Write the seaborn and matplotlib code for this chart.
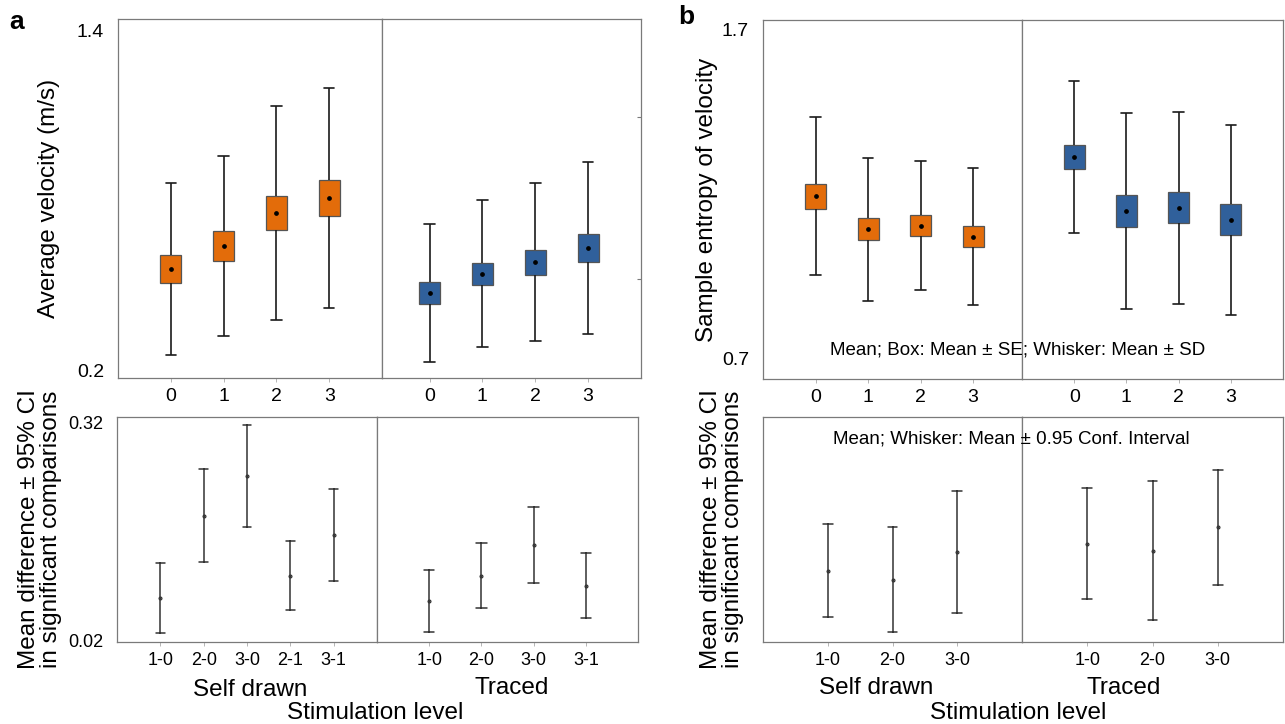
import numpy as np
import pandas as pd
import matplotlib
matplotlib.use("Agg")
import matplotlib.pyplot as plt
import seaborn as sns

# ---------------- data ----------------
levels = ["0", "1", "2", "3"]

# Average velocity (m/s): mean, standard error, standard deviation
vel_self_mean = [0.558, 0.639, 0.756, 0.809]
vel_self_se = [0.050, 0.052, 0.060, 0.064]
vel_self_sd = [0.305, 0.320, 0.379, 0.390]
vel_traced_mean = [0.473, 0.540, 0.582, 0.632]
vel_traced_se = [0.039, 0.040, 0.044, 0.050]
vel_traced_sd = [0.244, 0.260, 0.280, 0.305]

# Sample entropy of velocity
ent_self_mean = [1.195, 1.094, 1.105, 1.072]
ent_self_se = [0.038, 0.034, 0.031, 0.033]
ent_self_sd = [0.239, 0.218, 0.196, 0.209]
ent_traced_mean = [1.314, 1.149, 1.159, 1.123]
ent_traced_se = [0.037, 0.048, 0.047, 0.047]
ent_traced_sd = [0.232, 0.298, 0.292, 0.289]

# Pairwise comparisons: mean difference and 95% CI half-width
vel_cmp_self = ["1-0", "2-0", "3-0", "2-1", "3-1"]
vel_diff_self = [0.079, 0.192, 0.247, 0.110, 0.166]
vel_ci_self = [0.048, 0.064, 0.070, 0.047, 0.063]
vel_cmp_traced = ["1-0", "2-0", "3-0", "3-1"]
vel_diff_traced = [0.075, 0.110, 0.152, 0.096]
vel_ci_traced = [0.043, 0.045, 0.052, 0.045]

ent_cmp_self = ["1-0", "2-0", "3-0"]
ent_diff_self = [0.095, 0.083, 0.120]
ent_ci_self = [0.062, 0.070, 0.081]
ent_cmp_traced = ["1-0", "2-0", "3-0"]
ent_diff_traced = [0.131, 0.122, 0.153]
ent_ci_traced = [0.074, 0.093, 0.077]

vel_yticks = [0.2, 1.4]
vel_traced_right_ticks = [0.522, 1.096]
ent_yticks = [0.7, 1.7]
cmp_yticks = [0.02, 0.32]

ORANGE = "#E36C0A"
BLUE = "#30609B"

# ---------------- style ----------------
sns.set_theme(style="white")
plt.rcParams["font.family"] = ["Liberation Sans", "DejaVu Sans"]
plt.rcParams["text.color"] = "black"
plt.rcParams["axes.labelcolor"] = "black"
plt.rcParams["xtick.labelcolor"] = "black"
plt.rcParams["ytick.labelcolor"] = "black"

W, H = 1285, 724
fig = plt.figure(figsize=(W / 100, H / 100), dpi=100)


def add_ax(x0, y0, x1, y1):
    return fig.add_axes([x0 / W, 1 - y1 / H, (x1 - x0) / W, (y1 - y0) / H])


def box_frame(means, ses, sds):
    rows = []
    for lvl, m, se, sd in zip(levels, means, ses, sds):
        for v in (m - sd, m - se, m, m + se, m + sd):
            rows.append({"level": lvl, "value": v})
    return pd.DataFrame(rows)


def ci_frame(cats, diffs, cis):
    rows = []
    for c, d, ci in zip(cats, diffs, cis):
        for v in (d - ci, d, d + ci):
            rows.append({"cmp": c, "value": v})
    return pd.DataFrame(rows)


def draw_boxes(ax, means, ses, sds, color):
    df = box_frame(means, ses, sds)
    sns.boxplot(data=df, x="level", y="value", order=levels, color=color,
                saturation=1, width=0.4, whis=(0, 100), linecolor="#1a1a1a",
                linewidth=1.2, showfliers=False, showmeans=True,
                medianprops=dict(linewidth=0),
                boxprops=dict(edgecolor="#555555", linewidth=0.9),
                meanprops=dict(marker="o", markerfacecolor="black",
                               markeredgecolor="black", markersize=2.4),
                ax=ax)


def draw_ci(ax, cats, diffs, cis, capsize):
    df = ci_frame(cats, diffs, cis)
    sns.pointplot(data=df, x="cmp", y="value", order=cats, estimator="mean",
                  errorbar=lambda v: (v.min(), v.max()), linestyle="none",
                  marker="o", markersize=0.9, color="#333333",
                  capsize=capsize, err_kws=dict(linewidth=1.1), ax=ax)


def style(ax, xlim, ylim, yticks=None, tick_size=14):
    ax.set_xlim(*xlim)
    ax.set_ylim(*ylim)
    ax.set_xlabel("")
    ax.set_ylabel("")
    for s in ax.spines.values():
        s.set_visible(True)
        s.set_color("#7a7a7a")
        s.set_linewidth(0.9)
    ax.tick_params(axis="x", bottom=True, length=3, width=0.6, color="#aaaaaa",
                   labelsize=tick_size, pad=4)
    if yticks is None:
        ax.set_yticks([])
    else:
        ax.set_yticks(yticks)
        ax.set_yticklabels([f"{t:g}" for t in yticks])
        ax.tick_params(axis="y", left=False, labelsize=tick_size, pad=4)


# ---------------- panel a ----------------
vel_ylim = (0.172, 1.442)
ax = add_ax(118, 19, 382, 378)
draw_boxes(ax, vel_self_mean, vel_self_se, vel_self_sd, ORANGE)
style(ax, (-1, 4), vel_ylim, vel_yticks)
ax.set_ylabel("Average velocity (m/s)", fontsize=17.5, labelpad=12)

ax = add_ax(382, 19, 641, 378)
draw_boxes(ax, vel_traced_mean, vel_traced_se, vel_traced_sd, BLUE)
style(ax, (-0.9, 4), vel_ylim)
ax.yaxis.set_ticks_position("right")
ax.set_yticks(vel_traced_right_ticks)
ax.set_yticklabels([])
ax.tick_params(axis="y", right=True, direction="in", length=3, width=0.8,
               color="#7a7a7a")

cmp_ylim = (0.0186, 0.328)
ax = add_ax(117, 417, 377, 642)
draw_ci(ax, vel_cmp_self, vel_diff_self, vel_ci_self, 0.2)
style(ax, (-1, 5), cmp_ylim, cmp_yticks, tick_size=13)
ax.set_ylabel("Mean difference ± 95% CI\nin significant comparisons",
              fontsize=17.5, labelpad=4, linespacing=1.0)

ax = add_ax(377, 417, 638, 642)
draw_ci(ax, vel_cmp_traced, vel_diff_traced, vel_ci_traced, 0.2)
style(ax, (-1, 4), cmp_ylim, tick_size=13)

# ---------------- panel b ----------------
ent_ylim = (0.639, 1.730)
ax = add_ax(763, 20, 1022, 379)
draw_boxes(ax, ent_self_mean, ent_self_se, ent_self_sd, ORANGE)
style(ax, (-1, 3.93), ent_ylim, ent_yticks)
ax.set_ylabel("Sample entropy of velocity", fontsize=17.5, labelpad=3)

ax = add_ax(1022, 20, 1283, 379)
draw_boxes(ax, ent_traced_mean, ent_traced_se, ent_traced_sd, BLUE)
style(ax, (-1, 4), ent_ylim)

ent_cmp_ylim = (0.0, 0.30)
ax = add_ax(763, 417, 1022, 642)
draw_ci(ax, ent_cmp_self, ent_diff_self, ent_ci_self, 0.15)
style(ax, (-1, 3), ent_cmp_ylim, tick_size=13)
ax.set_ylabel("Mean difference ± 95% CI\nin significant comparisons",
              fontsize=17.5, labelpad=14, linespacing=1.0)

ax = add_ax(1022, 417, 1283, 642)
draw_ci(ax, ent_cmp_traced, ent_diff_traced, ent_ci_traced, 0.15)
style(ax, (-1, 3), ent_cmp_ylim, tick_size=13)

# ---------------- figure text ----------------
def ftext(x, y, s, **kw):
    fig.text(x / W, 1 - y / H, s, ha="center", va="center", **kw)


ftext(17, 22, "a", fontsize=19, fontweight="bold")
ftext(686, 17, "b", fontsize=19, fontweight="bold")

ftext(250, 690, "Self drawn", fontsize=17.5)
ftext(512, 688, "Traced", fontsize=17.5)
ftext(375, 713, "Stimulation level", fontsize=17.5)
ftext(876, 688, "Self drawn", fontsize=17.5)
ftext(1124, 688, "Traced", fontsize=17.5)
ftext(1018, 713, "Stimulation level", fontsize=17.5)

ftext(1018, 350, "Mean; Box: Mean ± SE; Whisker: Mean ± SD", fontsize=13.5)
ftext(1011, 439, "Mean; Whisker: Mean ± 0.95 Conf. Interval", fontsize=13.5)

fig.savefig("out.png", dpi=100)
